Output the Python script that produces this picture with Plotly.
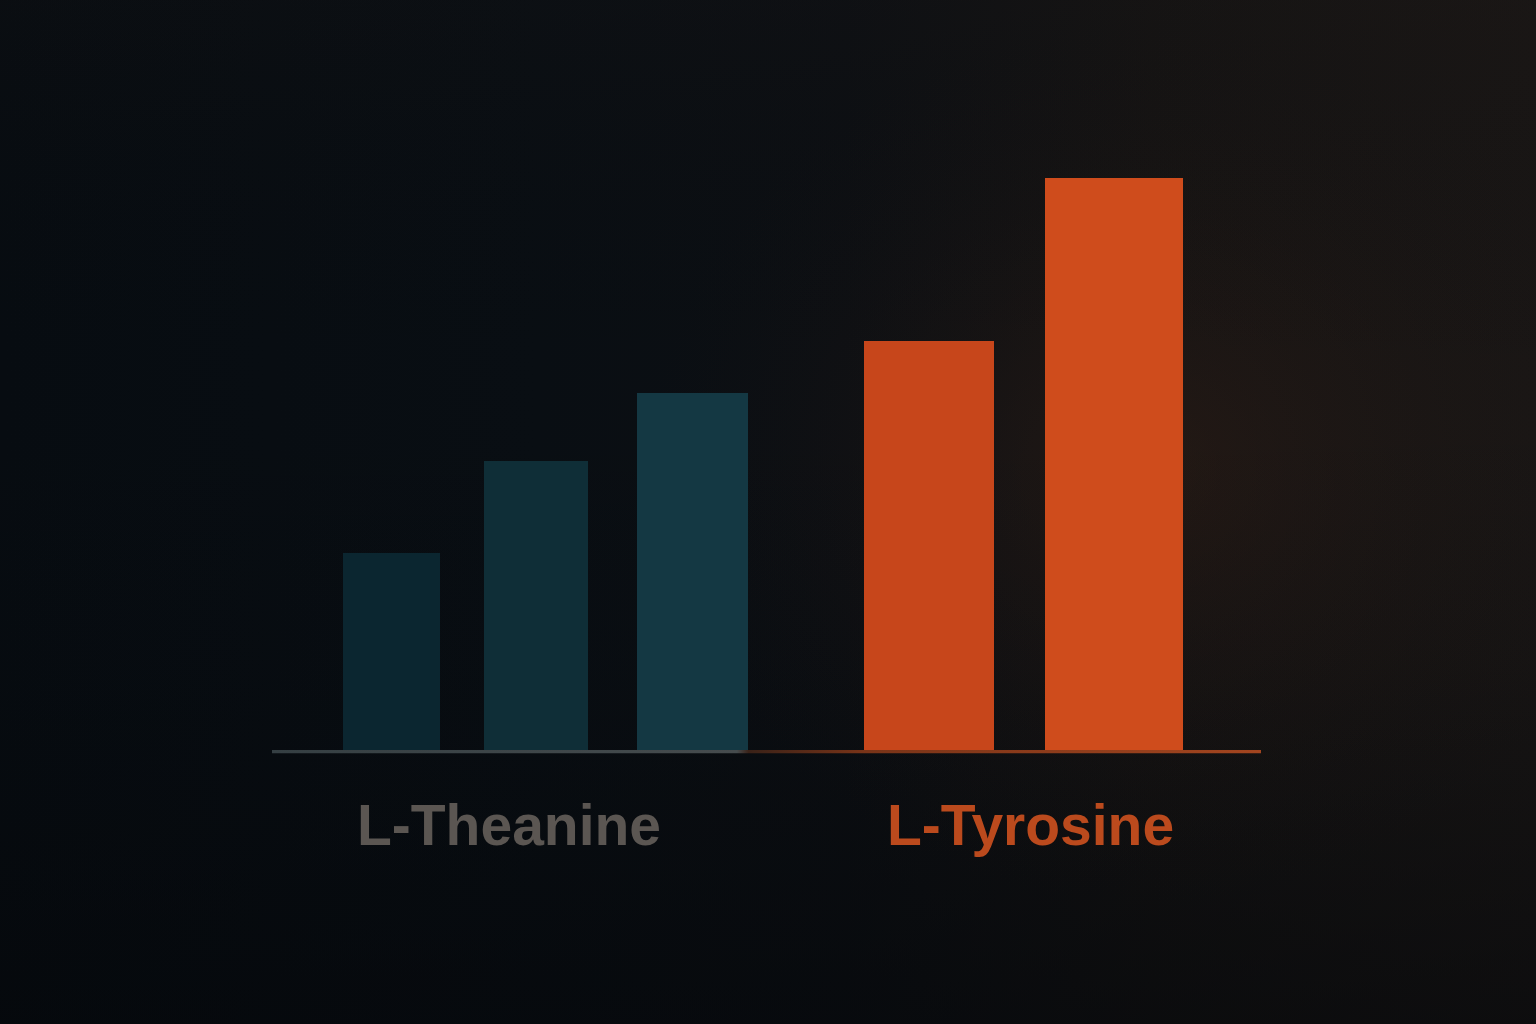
import plotly.graph_objects as go

# ---------------- data ----------------
groups = ["L-Theanine", "L-Tyrosine"]
theanine_values = [34.4, 50.5, 62.4]
tyrosine_values = [71.5, 100.0]

# ---------------- layout / style ----------------
W, H = 1536, 1024
theanine_x = [11.95, 26.4, 42.05]
theanine_w = [9.7, 10.4, 11.1]
tyrosine_x = [65.7, 84.2]
tyrosine_w = [13.0, 13.8]
theanine_colors = ["#0b2630", "#0f2e37", "#143843"]
tyrosine_colors = ["#c7461b", "#cf4c1c"]
label_colors = ["#5b5652", "#bb4a1d"]
label_x = [23.7, 75.8]  # centers in x2 units
label_y_px = 825        # from top
font = "Liberation Sans, Arial, sans-serif"

fig = go.Figure()

def rect(x0, x1, y0, y1):
    return [x0, x1, x1, x0, x0], [y0, y0, y1, y1, y0]

# background layers on full-paper axes (x, y)
bx, by = rect(0, W, 0, H)
fig.add_trace(go.Scatter(
    x=bx, y=by, mode="lines", line=dict(width=0), fill="toself",
    fillgradient=dict(type="horizontal", colorscale=[
        [0.0, "#070c11"], [0.35, "#090e13"], [0.55, "#0c0f13"],
        [0.75, "#141313"], [1.0, "#191615"]]),
    hoverinfo="skip", showlegend=False))
fig.add_trace(go.Scatter(
    x=bx, y=by, mode="lines", line=dict(width=0), fill="toself",
    fillgradient=dict(type="vertical", colorscale=[
        [0.0, "rgba(4,6,9,0.55)"], [0.35, "rgba(4,6,9,0.15)"],
        [0.6, "rgba(4,6,9,0)"], [1.0, "rgba(30,24,22,0.15)"]]),
    hoverinfo="skip", showlegend=False))
gx, gy = rect(650, 1650, 120, 1000)
fig.add_trace(go.Scatter(
    x=gx, y=gy, mode="lines", line=dict(width=0), fill="toself",
    fillgradient=dict(type="radial", colorscale=[
        [0.0, "rgba(70,38,24,0.30)"], [0.5, "rgba(50,30,22,0.15)"],
        [1.0, "rgba(30,20,18,0)"]]),
    hoverinfo="skip", showlegend=False))

# bars on inner axes (x2, y2)
fig.add_trace(go.Bar(
    x=theanine_x, y=theanine_values, width=theanine_w,
    marker=dict(color=theanine_colors, line=dict(width=0)),
    name=groups[0], xaxis="x2", yaxis="y2", hoverinfo="skip", showlegend=False))
fig.add_trace(go.Bar(
    x=tyrosine_x, y=tyrosine_values, width=tyrosine_w,
    marker=dict(color=tyrosine_colors, line=dict(width=0)),
    name=groups[1], xaxis="x2", yaxis="y2", hoverinfo="skip", showlegend=False))

# baseline with gradient
lx, ly = rect(0, 98.9, -0.55, 0)
fig.add_trace(go.Scatter(
    x=lx, y=ly, mode="lines", line=dict(width=0), fill="toself",
    fillgradient=dict(type="horizontal", colorscale=[
        [0.0, "#353f43"], [0.47, "#464c4e"], [0.482, "#3a2218"],
        [0.6, "#7a3418"], [1.0, "#a3451f"]]),
    xaxis="x2", yaxis="y2", hoverinfo="skip", showlegend=False))

for g, cx, col in zip(groups, label_x, label_colors):
    fig.add_annotation(
        x=cx, xref="x2", y=H - label_y_px, yref="y", yanchor="middle",
        text="<b>%s</b>" % g, showarrow=False,
        font=dict(family=font, size=57, color=col))

fig.update_layout(
    width=W, height=H, margin=dict(l=0, r=0, t=0, b=0),
    paper_bgcolor="#0a0e12", plot_bgcolor="rgba(0,0,0,0)",
    barmode="overlay", bargap=0,
    xaxis=dict(range=[0, W], visible=False, fixedrange=True, domain=[0, 1]),
    yaxis=dict(range=[0, H], visible=False, fixedrange=True, domain=[0, 1]),
    xaxis2=dict(range=[0, 98.9], visible=False, domain=[272 / W, 1261 / W], anchor="y2"),
    yaxis2=dict(range=[-1, 100], visible=False,
                domain=[(H - 755.72) / H, (H - 178) / H], anchor="x2"),
)

fig.write_html(
    "out.html",
    config={"displayModeBar": False},
    post_script="document.body.style.margin='0';document.body.style.background='#0a0e12';",
)
